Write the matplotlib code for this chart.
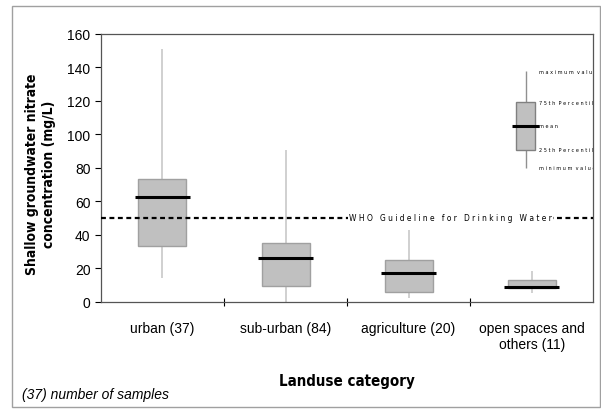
import os
import matplotlib
matplotlib.use("Agg")
import matplotlib.pyplot as plt
from matplotlib import font_manager as fm
from matplotlib.patches import Rectangle

# Nitrate concentration per landuse category (mg/L)
categories = ["urban (37)", "sub-urban (84)", "agriculture (20)",
              "open spaces and\nothers (11)"]
v_min = [14, 0, 2, 5]
v_q1 = [33.5, 9.4, 6, 8]
v_mean = [62.4, 25.9, 17, 8.8]
v_q3 = [73.2, 34.9, 24.9, 12.8]
v_max = [151, 90.7, 43, 18.2]

who_limit = 50

# key box (upper right)
key_values = [80, 90.6, 105.2, 119.2, 137.5]   # min, q1, mean, q3, max
key_labels = ["minimum value", "25th Percentile", "mean",
              "75th Percentile", "maximum value"]

BOX_FILL = "#c0c0c0"
BOX_EDGE = "#a0a0a0"
WHISK = "#c8c8c8"

plt.rcParams["font.family"] = ["Liberation Sans", "DejaVu Sans"]


def find_font(basenames):
    files = {os.path.basename(f.fname): f.fname for f in fm.fontManager.ttflist}
    for b in basenames:
        if b in files:
            return fm.FontProperties(fname=files[b])
    return None


narrow = find_font(["LiberationSansNarrow-Regular.ttf", "DejaVuSansCondensed.ttf"])
narrow_bold = find_font(["LiberationSansNarrow-Bold.ttf", "DejaVuSansCondensed-Bold.ttf"])
if narrow is None:
    narrow = fm.FontProperties(family="Liberation Sans")
if narrow_bold is None:
    narrow_bold = fm.FontProperties(family="Liberation Sans", weight="bold")
    bold_scale = 0.88
else:
    bold_scale = 1.0


def fp(base, size):
    p = base.copy()
    p.set_size(size)
    return p


def spaced(s, gap="   "):
    return gap.join(" ".join(w) for w in s.split())


fig = plt.figure(figsize=(6.01, 4.10), dpi=100)
ax = fig.add_axes([0.168, 0.262, 0.819, 0.653])

x = list(range(len(categories)))
box_w = 0.39

# whiskers
ax.vlines(x, v_min, v_max, color=WHISK, lw=1.2, zorder=1)
# boxes
ax.bar(x, [h - l for h, l in zip(v_q3, v_q1)], bottom=v_q1, width=box_w,
       color=BOX_FILL, edgecolor=BOX_EDGE, lw=1, zorder=2)
# means
ax.hlines(v_mean, [i - 0.225 for i in x], [i + 0.225 for i in x],
          color="black", lw=2.2, zorder=3)

# WHO guideline
ax.axhline(who_limit, color="black", lw=1.6, ls=(0, (2.2, 1.6)), zorder=4)
ax.text(2.34, who_limit, spaced("WHO Guideline for Drinking Water"),
        ha="center", va="center", fontproperties=fp(narrow, 6), zorder=5,
        bbox=dict(facecolor="white", edgecolor="none", pad=1))

# key box
kx = 2.95
kw = 0.15
ax.vlines(kx, key_values[0], key_values[-1], color="#909090", lw=1, zorder=1)
ax.bar(kx, key_values[3] - key_values[1], bottom=key_values[1], width=kw,
       color=BOX_FILL, edgecolor="#808080", lw=1, zorder=2)
ax.hlines(key_values[2], kx - 0.11, kx + 0.11, color="black", lw=2.2, zorder=3)
for val, lab in zip(key_values, key_labels):
    ax.text(3.06, val, spaced(lab, "  "), ha="left", va="center",
            fontproperties=fp(narrow, 4.0), clip_on=True)

ax.set_xlim(-0.5, 3.5)
ax.set_ylim(0, 160)
ax.set_yticks(range(0, 161, 20))
ax.tick_params(axis="y", labelsize=10, length=4, width=0.8, direction="out")
ax.set_xticks([0.5, 1.5, 2.5])
ax.set_xticklabels([])
ax.set_xticks(x, minor=True)
ax.set_xticklabels(categories, minor=True, fontsize=10)
ax.tick_params(axis="x", which="major", length=6, direction="inout", width=0.8)
ax.tick_params(axis="x", which="minor", length=0, pad=14)
for sp in ax.spines.values():
    sp.set_color("#555555")
    sp.set_linewidth(0.9)

ax.set_ylabel("Shallow groundwater nitrate\nconcentration (mg/L)",
              fontproperties=fp(narrow_bold, 10 * bold_scale))
ax.yaxis.label.set_va("center")
ax.yaxis.set_label_coords(-0.123, 0.479)
ax.set_xlabel("Landuse category", fontproperties=fp(narrow_bold, 10.8 * bold_scale),
              labelpad=16)

fig.text(0.037, 0.028, "(37) number of samples", fontsize=10,
         style="italic", ha="left", va="baseline")

# outer frame
fig.patches.append(Rectangle((0.02, 0.005), 0.978, 0.978, transform=fig.transFigure,
                             fill=False, edgecolor="#a0a0a0", lw=1, zorder=0))

fig.savefig("out.png", dpi=100)
